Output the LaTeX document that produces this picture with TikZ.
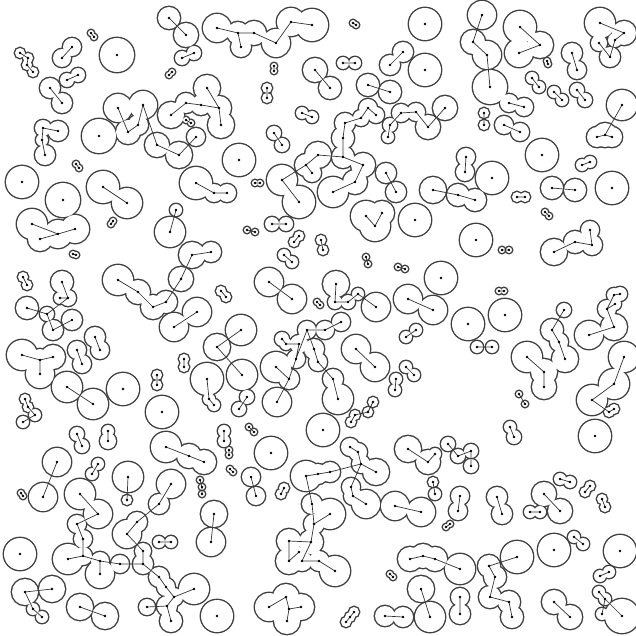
\documentclass[tikz,border=0pt]{standalone}

\def\spots{c1a/20/53/5,c1b/28/58/5,c1c/27/65/5,c1d/33/72/5,
c2a/62/58/9,c2b/72/47/9,
c3a/91/33/3,c3b/94/37/3,
c4a/117/55/17,
c5a/67/80/7,c5b/78/75/7,
c6a/50/88/10,c6b/62/103/10,
c7a/43/128/8,c7b/58/131/10,c7c/42/140/6,c7d/45/155/10,
c8a/99/136/17,
c9a/76/164/3,c9b/79/168/3,
c10a/22/182/16,
c11a/63/200/17,
c12a/103/187/16,c12b/127/203/15,
c13a/118/108/14,c13b/143/105/14,c13c/128/132/12,c13d/138/125/10,c13e/157/145/12,c13f/179/155/13,c13g/196/137/9,
c14a/207/88/13,c14b/186/103/10,c14c/201/105/10,c14d/219/108/12,c14e/221/125/13,c14f/171/115/13,
c15a/186/120/3,c15b/191/123/3,
c16a/169/18/11,c16b/186/35/12,
c17a/182/58/7,c17b/194/53/7,
c18a/169/75/3,c18b/172/72/3,
c19a/217/28/14,c19b/238/33/11,c19c/241/47/10,c19d/254/33/12,c19e/276/43/14,c19f/291/22/14,c19g/312/25/16,
c20a/274/66/3,c20b/274/71/3,
c21a/267/88/5,c21b/267/98/5,
c22a/239/160/16,
c23a/196/183/16,c23b/214/193/9,c23c/227/193/9,
c24a/255/183/3,c24b/260/183/3,
c25a/315/70/12,c25b/330/88/11,
c26a/274/133/7,c26b/282/145/7,
c27a/302/113/6,c27b/312/117/6,
c28a/368/108/9,c28b/361/118/8,c28c/345/123/10,c28d/343/138/11,c28e/343/157/11,c28f/363/165/12,c28g/355/182/12,c28h/333/192/15,c28i/318/155/13,c28j/306/165/11,c28k/312/173/9,c28l/282/180/15,c28m/299/202/16,c28n/376/115/8,
c29a/353/23/3,c29b/356/25/3,
c30a/425/24/16,
c31a/390/65/10,c31b/403/52/10,
c32a/425/70/16,
c33a/343/63/6,c33b/355/63/6,
c34a/368/85/11,c34b/390/92/11,
c35a/390/125/7,c35b/388/137/6,c35c/401/113/9,c35d/416/112/9,c35e/428/127/12,c35f/445/108/12,
c36a/386/173/10,c36b/396/192/10,
c37a/433/190/13,c37b/458/195/11,c37c/475/200/11,
c38a/466/157/9,c38b/465/172/9,
c39a/482/15/14,c39b/473/42/12,c39c/487/55/14,c39d/490/87/17,
c40a/520/27/16,c40b/540/45/13,c40c/519/53/14,
c41a/547/61/3,c41b/548/64/3,
c42a/572/53/10,c42b/577/70/9,
c43a/600/23/15,c43b/624/33/12,c43c/615/40/7,c43d/610/57/10,c43e/599/43/8,
c44a/532/78/6,c44b/539/87/6,
c45a/554/92/6,c45b/562/100/6,
c46a/577/90/7,c46b/585/100/7,
c47a/484/113/5,c47b/484/125/5,
c48a/509/103/9,c48b/524/107/9,
c49a/504/125/9,c49b/520/132/9,
c50a/542/155/16,
c51a/622/105/15,c51b/605/135/12,c51c/597/137/10,c51d/612/137/10,
c52a/582/165/6,c52b/590/162/6,
c53a/492/178/16,
c54a/552/188/11,c54b/575/190/11,
c55a/612/188/16,
c56a/517/197/5,c56b/525/197/5,
c57a/366/216/15,c57b/375/226/15,c57c/382/213/12,
c58a/415/220/16,
c59a/32/224/15,c59b/58/234/14,c59c/75/229/14,c59d/40/239/12,
c60a/73/254/3,c60b/76/255/3,
c61a/111/224/3,c61b/113/221/3,
c62a/176/210/6,c62b/170/232/15,
c63a/23/277/5,c63b/27/285/5,
c64a/62/282/11,c64b/68/298/8,c64c/60/298/6,c64d/27/308/11,c64e/47/314/7,c64f/53/330/10,c64g/72/320/10,
c65a/118/280/15,c65b/138/292/12,c65c/153/307/12,c65d/166/302/11,c65e/181/279/12,c65f/192/255/13,c65g/211/252/10,
c66a/174/327/14,c66b/197/312/14,
c67a/22/355/15,c67e/40/360/11,c67c/53/357/12,c67d/40/374/14,
c68a/77/350/9,c68b/82/364/9,
c69a/95/337/10,c69b/100/350/9,
c70a/67/387/15,c70b/93/404/15,
c71a/123/389/16,
c72a/157/375/5,c72b/157/385/5,
c73a/25/399/5,c73b/28/407/5,c73c/35/415/6,c73d/23/422/6,
c74a/162/412/16,
c75a/247/230/3,c75b/255/232/3,
c76a/272/224/7,c76b/286/224/7,
c77a/294/242/5,c77b/299/236/5,
c78a/284/255/6,c78b/292/262/6,
c79a/221/291/5,c79b/226/297/5,
c80a/269/282/14,c80b/292/299/14,
c81a/317/302/3,c81b/320/305/3,
c82a/241/330/15,c82b/217/347/13,c82c/242/375/15,
c83a/184/359/5,c83b/184/367/5,
c84a/207/379/16,c84b/209/399/6,c84c/214/405/6,
c85a/247/397/7,c85b/239/409/7,
c86a/282/339/7,c86b/286/344/6,c86c/296/359/9,c86d/299/344/9,c86e/307/330/9,c86f/314/349/10,c86g/276/367/15,c86h/289/379/10,c86i/277/402/14,c86j/325/330/9,c86k/341/322/9,c86l/318/362/9,c86m/333/379/10,c86n/338/399/15,
c87a/321/240/5,c87b/323/250/5,
c88a/366/257/3,c88b/368/264/3,
c89a/398/267/3,c89b/405/269/3,
c90a/441/278/16,
c91a/336/284/13,c91b/335/302/7,c91c/348/302/7,c91d/358/294/6,c91e/376/307/14,
c92a/408/299/14,c92b/433/310/14,
c93a/476/240/16,
c94a/468/324/16,
c95a/406/337/6,c95b/416/330/6,
c96a/356/349/14,c96b/375/367/14,
c97a/396/379/6,c97b/395/390/6,
c98a/406/367/6,c98b/414/375/6,
c99a/477/347/6,c99b/492/347/6,
c100a/373/402/5,c100b/368/412/5,c100c/355/415/5,c100d/351/422/5,
c101a/545/212/3,c101b/549/216/3,
c102a/502/250/3,c102b/509/250/3,
c103a/554/252/13,c103b/575/242/11,c103c/592/245/10,c103d/590/230/9,
c104a/499/291/3,c104b/504/291/3,
c105a/505/315/16,
c106a/564/310/7,c106b/552/330/11,c106c/559/342/9,c106d/565/359/13,
c107a/589/335/14,c107b/614/327/13,c107c/607/309/9,c107d/614/295/7,c107e/620/294/7,c107f/615/304/6,
c108a/527/357/15,c108b/544/372/13,c108c/544/387/12,
c109a/519/394/3,c109b/525/404/3,
c110a/624/357/15,c110b/614/384/15,c110c/592/400/15,c110d/609/412/5,c110e/614/409/5,
c111a/510/427/6,c111b/514/437/7,
c112a/77/434/7,c112b/82/446/7,
c113a/108/431/6,c113b/108/441/8,
c114a/57/462/14,c114b/43/497/14,
c115a/21/493/3,c115b/23/496/3,
c116a/92/474/6,c116b/98/464/6,
c117a/128/477/15,c117b/127/500/5,
c118a/80/494/15,c118b/98/514/14,c118c/77/524/9,c118d/83/539/9,c118e/83/556/9,c118f/68/559/15,c118g/100/574/14,c118h/100/561/9,c118v/120/564/9,c118k/143/564/10,c118w/143/551/8,c118i/127/534/14,c118j/137/522/10,c118s/159/504/10,c118r/171/484/14,c118l/159/577/10,c118m/166/587/9,c118n/174/597/9,c118o/194/589/15,c118p/167/606/10,c118q/171/621/11,c118t/147/607/8,
c119a/20/554/16,
c120a/25/592/13,c120b/52/589/13,c120c/33/609/6,c120d/42/617/6,
c121a/80/607/13,c121b/105/616/13,
c122a/224/431/6,c122b/224/441/6,
c123a/249/427/3,c123b/254/432/3,
c124a/166/447/15,c124b/189/456/12,c124c/204/462/12,
c125a/271/453/16,
c126a/229/450/3,c126b/229/455/3,
c127a/230/469/3,c127b/233/472/3,
c128a/251/477/9,c128b/256/496/9,
c129a/281/494/5,c129b/284/488/5,
c130a/200/480/3,c130b/202/487/3,c130c/202/494/3,
c131a/214/514/13,c131b/211/542/14,
c132a/159/542/6,c132b/171/542/6,
c133a/217/616/16,
c134a/306/476/15,c134i/318/474/10,c134j/330/472/10,c134k/350/447/9,c134l/358/452/9,c134m/361/464/9,c134n/376/472/13,c134o/351/487/9,c134p/353/496/9,c134q/366/504/14,c134b/312/504/10,c134c/314/524/10,c134r/330/514/15,c134d/311/542/12,c134e/289/541/12,c134f/289/561/13,c134t/299/552/5,c134g/302/561/10,c134h/319/561/10,c134s/335/571/15,
c135a/323/430/16,
c136a/408/449/13,c136b/428/462/12,c136c/435/454/6,
c137a/448/444/7,c137b/458/456/7,c137c/471/451/7,c137d/471/466/7,
c138a/433/482/5,c138b/435/494/6,
c139a/460/496/9,c139b/458/511/9,
c140a/446/527/3,c140b/450/524/3,
c141a/395/506/14,c141b/421/512/14,
c142a/390/574/3,c142b/393/577/3,
c143a/410/559/12,c143b/423/556/12,c143c/435/559/12,c143d/460/569/15,
c144a/421/589/13,c144b/430/617/15,
c145a/460/597/9,c145b/460/614/10,
c146a/350/617/5,c146b/346/622/5,c146c/354/612/5,
c147a/385/616/10,c147b/403/617/10,
c148a/269/607/14,c148b/286/597/13,c148e/289/609/6,c148d/301/607/13,c148c/287/621/13,
c150a/595/436/16,
c151a/497/497/10,c151b/502/514/10,
c152a/544/494/12,c152b/560/511/12,
c153a/530/512/6,c153b/540/512/6,
c154a/560/479/6,c154b/570/482/6,
c155a/585/492/5,c155b/590/486/5,
c156a/602/499/5,c156b/605/507/5,
c157a/554/550/16,
c158a/574/537/6,c158b/583/544/6,
c159a/620/551/16,
c160a/517/557/16,c160b/489/566/11,c160c/495/577/11,c160d/490/597/11,c160e/509/602/11,c160f/512/617/11,
c161a/554/602/12,c161b/570/617/12,
c162a/600/576/6,c162b/609/572/6,
c163a/599/592/6,c163b/605/599/6,c163c/602/614/6,c163d/622/616/17}

\begin{document}
\begin{tikzpicture}[x=1pt,y=-1pt,
  rim/.style={draw=black!75,line width=2.8pt},
  link/.style={line width=.7pt,black!80},
  ctr/.style={fill=black}]
\useasboundingbox (0,0) rectangle (635,636);
\foreach \n/\x/\y/\r in \spots {\coordinate (\n) at (\x,\y);}
\foreach \n/\x/\y/\r in \spots {\draw[rim] (\n) circle (\r pt);}
\foreach \n/\x/\y/\r in \spots {\fill[white] (\n) circle (\r pt);}

\draw[link] (c1a)--(c1b)--(c1c)--(c1d) (c2a)--(c2b) (c3a)--(c3b) (c5a)--(c5b) (c6a)--(c6b)
  (c7b)--(c7a)--(c7c)--(c7d) (c9a)--(c9b) (c12a)--(c12b)
  (c13a)--(c13c)--(c13d)--(c13b)--(c13e)--(c13f)--(c13g)
  (c14f)--(c14b)--(c14c)--(c14d)--(c14e) (c14a)--(c14d)
  (c15a)--(c15b) (c16a)--(c16b) (c17a)--(c17b) (c18a)--(c18b)
  (c19a)--(c19b)--(c19d)--(c19e)--(c19f)--(c19g) (c19b)--(c19c)
  (c20a)--(c20b) (c21a)--(c21b) (c23a)--(c23b)--(c23c) (c24a)--(c24b)
  (c25a)--(c25b) (c26a)--(c26b) (c27a)--(c27b)
  (c28n)--(c28a)--(c28b)--(c28c)--(c28d)--(c28e)--(c28f)--(c28g)--(c28h)
  (c28e)--(c28i)--(c28j)--(c28l)--(c28m) (c28j)--(c28k)
  (c29a)--(c29b) (c31a)--(c31b) (c33a)--(c33b) (c34a)--(c34b)
  (c35b)--(c35a)--(c35c)--(c35d)--(c35e)--(c35f) (c36a)--(c36b)
  (c37a)--(c37b)--(c37c) (c38a)--(c38b) (c39a)--(c39b)--(c39c)--(c39d)
  (c40a)--(c40b)--(c40c) (c41a)--(c41b) (c42a)--(c42b)
  (c43a)--(c43b)--(c43c)--(c43d)--(c43e)
  (c44a)--(c44b) (c45a)--(c45b) (c46a)--(c46b) (c47a)--(c47b) (c48a)--(c48b) (c49a)--(c49b)
  (c51a)--(c51b)--(c51c) (c51b)--(c51d) (c52a)--(c52b) (c54a)--(c54b) (c56a)--(c56b)
  (c57a)--(c57b)--(c57c);
\draw[link] (c59a)--(c59b)--(c59c) (c59b)--(c59d) (c60a)--(c60b) (c61a)--(c61b) (c62a)--(c62b) (c63a)--(c63b)
  (c64a)--(c64b)--(c64e)--(c64d) (c64e)--(c64f)--(c64g) (c64b)--(c64c)
  (c65a)--(c65b)--(c65c)--(c65d)--(c65e)--(c65f)--(c65g) (c66a)--(c66b)
  (c67a)--(c67e)--(c67c) (c67e)--(c67d) (c68a)--(c68b) (c69a)--(c69b) (c70a)--(c70b)
  (c72a)--(c72b) (c73a)--(c73b)--(c73c)--(c73d)
  (c75a)--(c75b) (c76a)--(c76b) (c77a)--(c77b) (c78a)--(c78b) (c79a)--(c79b) (c80a)--(c80b) (c81a)--(c81b)
  (c82a)--(c82b)--(c82c) (c83a)--(c83b) (c84a)--(c84b)--(c84c) (c85a)--(c85b)
  (c86k)--(c86j)--(c86e)--(c86c)--(c86h)--(c86i) (c86a)--(c86b)--(c86d)--(c86c) (c86g)--(c86h)
  (c86e)--(c86f)--(c86l)--(c86m)--(c86n)
  (c87a)--(c87b) (c88a)--(c88b) (c89a)--(c89b) (c91a)--(c91b)--(c91c)--(c91d)--(c91e) (c92a)--(c92b)
  (c95a)--(c95b) (c96a)--(c96b) (c97a)--(c97b) (c98a)--(c98b) (c99a)--(c99b)
  (c100a)--(c100b)--(c100c)--(c100d) (c101a)--(c101b) (c102a)--(c102b)
  (c103a)--(c103b)--(c103c)--(c103d) (c104a)--(c104b) (c106a)--(c106b)--(c106c)--(c106d)
  (c107a)--(c107b)--(c107c)--(c107d)--(c107e) (c107c)--(c107f)
  (c108a)--(c108b)--(c108c) (c109a)--(c109b) (c110a)--(c110b)--(c110c)--(c110d)--(c110e) (c111a)--(c111b);
\draw[link] (c112a)--(c112b) (c113a)--(c113b) (c114a)--(c114b) (c115a)--(c115b) (c116a)--(c116b) (c117a)--(c117b)
  (c118a)--(c118b)--(c118c)--(c118d)--(c118e)
  (c118f)--(c118e)--(c118h)--(c118v)--(c118k)--(c118l)--(c118m)--(c118n)--(c118o)
  (c118h)--(c118g) (c118i)--(c118w)--(c118k) (c118r)--(c118s)--(c118j)--(c118i)
  (c118n)--(c118p)--(c118q) (c118t)--(c118p)
  (c120a)--(c120b) (c120a)--(c120c)--(c120d) (c121a)--(c121b)
  (c122a)--(c122b) (c123a)--(c123b) (c124a)--(c124b)--(c124c) (c126a)--(c126b) (c127a)--(c127b)
  (c128a)--(c128b) (c129a)--(c129b) (c130a)--(c130b)--(c130c) (c131a)--(c131b) (c132a)--(c132b)
  (c134a)--(c134i)--(c134j)--(c134m) (c134k)--(c134l)--(c134m)--(c134n) (c134m)--(c134o)--(c134p)--(c134q)
  (c134a)--(c134b)--(c134c)--(c134d)--(c134e)--(c134f) (c134d)--(c134g)--(c134h)--(c134s) (c134c)--(c134r) (c134f)--(c134t)
  (c136a)--(c136b)--(c136c) (c137a)--(c137b)--(c137c)--(c137d) (c138a)--(c138b) (c139a)--(c139b)
  (c140a)--(c140b) (c141a)--(c141b) (c142a)--(c142b) (c143a)--(c143b)--(c143c)--(c143d)
  (c144a)--(c144b) (c145a)--(c145b) (c146a)--(c146b) (c146a)--(c146c) (c147a)--(c147b)
  (c148a)--(c148b)--(c148e)--(c148d) (c148e)--(c148c)
  (c151a)--(c151b) (c152a)--(c152b) (c153a)--(c153b) (c154a)--(c154b) (c155a)--(c155b) (c156a)--(c156b)
  (c158a)--(c158b) (c160a)--(c160b)--(c160c)--(c160d)--(c160e)--(c160f) (c161a)--(c161b) (c162a)--(c162b)
  (c163a)--(c163b)--(c163c) (c163b)--(c163d);

\foreach \n/\x/\y/\r in \spots {\fill[ctr] (\n) circle (1.3pt);}
\end{tikzpicture}
\end{document}
